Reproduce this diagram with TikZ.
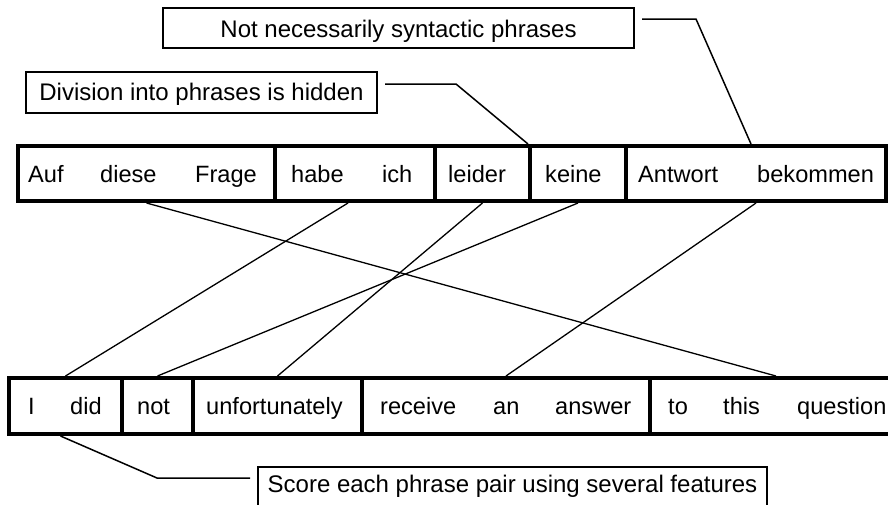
\documentclass[tikz,border=0pt]{standalone}
\usepackage{fontspec}
\setmainfont{Liberation Sans}
\begin{document}
\begin{tikzpicture}[x=1pt,y=-1pt,
  phrase/.style={draw, line width=4pt, inner sep=0pt},
  word/.style={anchor=base west, inner sep=0pt, font=\fontsize{23.6}{28}\selectfont},
  callout/.style={draw, line width=2pt, inner xsep=0pt, inner ysep=0pt, anchor=base, font=\fontsize{24}{28}\selectfont},
  link/.style={line width=1.3pt},
  lead/.style={line width=1.5pt}]
\fill[white] (0,0) rectangle (888,504);
\useasboundingbox (0,0) rectangle (888,504);

% German phrases (top row)
\node[phrase, minimum width=257pt, minimum height=55pt] (p1) at (146.5,173.5) {};
\node[phrase, minimum width=160pt, minimum height=55pt] (p2) at (355,173.5) {};
\node[phrase, minimum width=95pt,  minimum height=55pt] (p3) at (482.5,173.5) {};
\node[phrase, minimum width=96pt,  minimum height=55pt] (p4) at (578,173.5) {};
\node[phrase, minimum width=260pt, minimum height=55pt] (p5) at (756,173.5) {};

\node[word] (wAuf) at (28,182) {Auf};
\node[word] (wdiese) at (100,182) {diese};
\node[word] (wFrage) at (195,182) {Frage};
\node[word] (whabe) at (291,182) {habe};
\node[word] (wich) at (382,182) {ich};
\node[word] (wleider) at (448,182) {leider};
\node[word] (wkeine) at (545,182) {keine};
\node[word] (wAntwort) at (638,182) {Antwort};
\node[word] (wbekommen) at (757,182) {bekommen};

% English phrases (bottom row)
\node[phrase, minimum width=113pt, minimum height=56pt] (q1) at (65.5,406) {};
\node[phrase, minimum width=71pt,  minimum height=56pt] (q2) at (157.5,406) {};
\node[phrase, minimum width=169pt, minimum height=56pt] (q3) at (277.5,406) {};
\node[phrase, minimum width=288pt, minimum height=56pt] (q4) at (506,406) {};
\node[phrase, minimum width=252pt, minimum height=56pt] (q5) at (776,406) {};

\node[word] (wI) at (28,414) {I};
\node[word] (wdid) at (70,414) {did};
\node[word] (wnot) at (137,414) {not};
\node[word] (wunf) at (206,414) {unfortunately};
\node[word] (wreceive) at (380,414) {receive};
\node[word] (wan) at (493,414) {an};
\node[word] (wanswer) at (555,414) {answer};
\node[word] (wto) at (668,414) {to};
\node[word] (wthis) at (723,414) {this};
\node[word] (wquestion) at (797,414) {question};

% alignment links
\draw[link] (p1.south) -- (q5.north);
\draw[link] ([xshift=-7pt]p2.south) -- (q1.north);
\draw[link] (p3.south) -- (q3.north);
\draw[link] (p4.south) -- (q2.north);
\draw[link] (p5.south) -- (q4.north);

% callouts
\node[callout, minimum width=471pt, text height=29pt, text depth=11pt] (n1) at (398.5,37) {Not necessarily syntactic phrases};
\node[callout, minimum width=351pt, text height=28pt, text depth=13pt] (n2) at (201.5,100) {Division into phrases is hidden};
\node[callout, minimum width=509pt, text height=25pt, text depth=16pt] (n3) at (512.5,492) {Score each phrase pair using several features};

\coordinate (k1) at (696,19);
\coordinate (k2) at (456,84);
\coordinate (k3) at (157,478);

\draw[lead] ([xshift=7pt,yshift=9pt]n1.east) -- (k1) -- ([xshift=-5pt]p5.north);
\draw[lead] ([xshift=7pt,yshift=8.5pt]n2.east) -- (k2) -- (p4.north west);
\draw[lead] ([xshift=-5pt]q1.south) -- (k3) -- ([xshift=-7pt,yshift=9.5pt]n3.west);
\end{tikzpicture}
\end{document}
